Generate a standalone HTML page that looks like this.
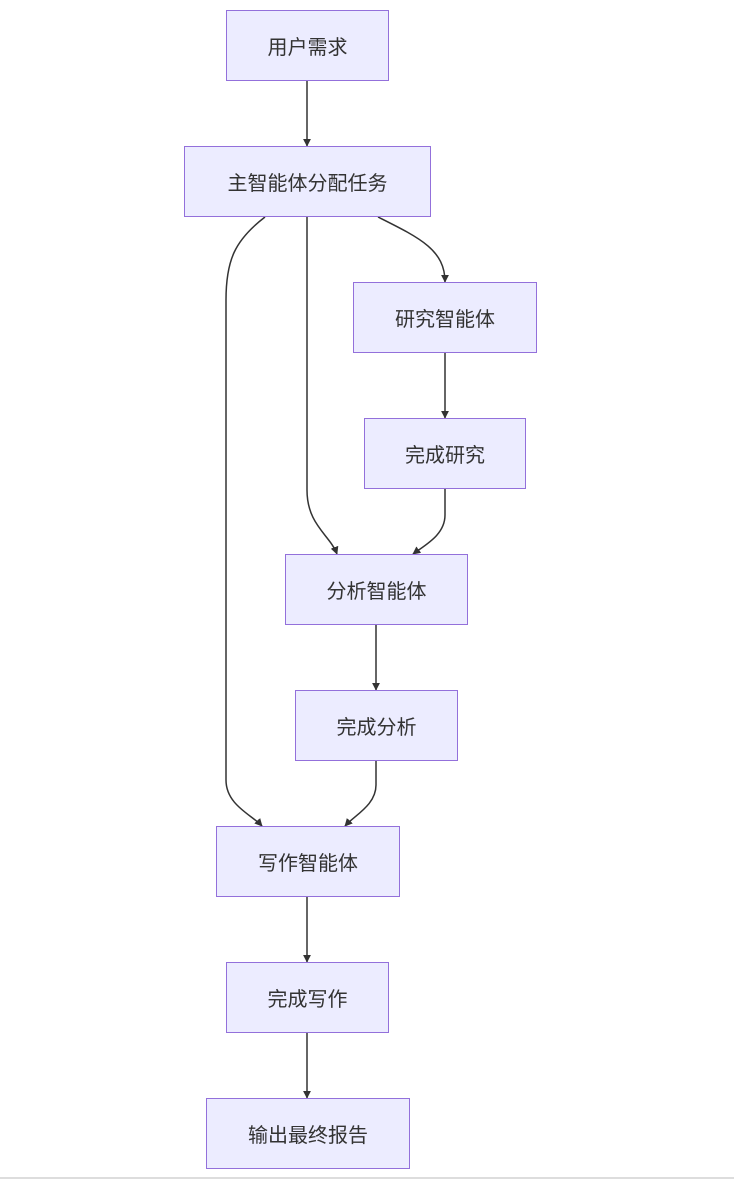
<!DOCTYPE html>
<html><head><meta charset="utf-8"><style>
html,body{margin:0;padding:0;background:#fff;width:734px;height:1180px;overflow:hidden}
.n{position:absolute;box-sizing:border-box;background:#ECECFF;border:1.5px solid #9370DB;display:flex;align-items:center;justify-content:center;font-family:"Liberation Sans","Noto Sans CJK SC",sans-serif;font-size:20px;color:#333}
svg{position:absolute;left:0;top:0}
.b{position:absolute;left:0;top:1177px;width:734px;height:2px;background:#ddd}
</style></head><body>
<svg width="734" height="1180">
<defs><marker id="a" viewBox="0 0 10 10" refX="9" refY="5" markerWidth="8" markerHeight="8" markerUnits="userSpaceOnUse" orient="auto"><path d="M0,0L10,5L0,10z" fill="#333"/></marker></defs>
<g fill="none" stroke="#333" stroke-width="1.5" marker-end="url(#a)">
<path d="M307,81 L307,146"/>
<path d="M378,217 C420,238 445,250 445,282"/>
<path d="M307,217 L307,490 C307,525 330,535 337,554"/>
<path d="M265,217 C235,240 226,260 226,300 L226,780 C226,805 252,815 262,826"/>
<path d="M445,353 L445,418"/>
<path d="M445,489 L445,515 C445,535 425,545 413,554"/>
<path d="M376,625 L376,690"/>
<path d="M376,761 L376,785 C376,805 355,815 345,826"/>
<path d="M307,897 L307,962"/>
<path d="M307,1033 L307,1098"/>
</g></svg>
<div class="n" style="left:226px;top:10px;width:163px;height:71px">用户需求</div>
<div class="n" style="left:184px;top:146px;width:247px;height:71px">主智能体分配任务</div>
<div class="n" style="left:353px;top:282px;width:184px;height:71px">研究智能体</div>
<div class="n" style="left:364px;top:418px;width:162px;height:71px">完成研究</div>
<div class="n" style="left:285px;top:554px;width:183px;height:71px">分析智能体</div>
<div class="n" style="left:295px;top:690px;width:163px;height:71px">完成分析</div>
<div class="n" style="left:216px;top:826px;width:184px;height:71px">写作智能体</div>
<div class="n" style="left:226px;top:962px;width:163px;height:71px">完成写作</div>
<div class="n" style="left:206px;top:1098px;width:204px;height:71px">输出最终报告</div>
<div class="b"></div>
</body></html>
